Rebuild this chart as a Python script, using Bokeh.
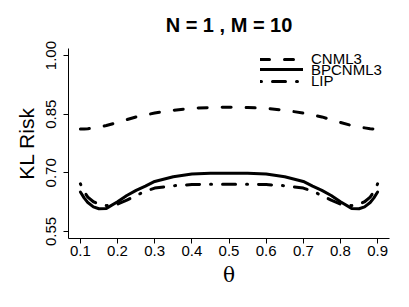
from bokeh.plotting import figure
from bokeh.models import Range1d, Legend, LegendItem, FixedTicker
from bokeh.embed import file_html
from bokeh.resources import INLINE

theta = [0.10, 0.11, 0.12, 0.135, 0.15, 0.17, 0.20, 0.225, 0.25, 0.275, 0.30, 0.35, 0.40, 0.45, 0.50,
         0.55, 0.60, 0.65, 0.70, 0.725, 0.75, 0.775, 0.80, 0.83, 0.85, 0.865, 0.88, 0.89, 0.90]
cnml3 = [0.812, 0.812, 0.813, 0.815, 0.817, 0.821, 0.829, 0.836, 0.843, 0.848, 0.853, 0.860, 0.865, 0.867, 0.868,
         0.867, 0.865, 0.860, 0.853, 0.848, 0.843, 0.836, 0.829, 0.821, 0.817, 0.815, 0.813, 0.812, 0.812]
bpcnml3 = [0.651, 0.636, 0.624, 0.613, 0.608, 0.609, 0.626, 0.642, 0.655, 0.666, 0.678, 0.690, 0.697, 0.699, 0.699,
           0.699, 0.697, 0.690, 0.678, 0.666, 0.655, 0.642, 0.626, 0.609, 0.608, 0.613, 0.624, 0.636, 0.651]
lip = [0.672, 0.652, 0.638, 0.626, 0.620, 0.616, 0.620, 0.630, 0.642, 0.653, 0.661, 0.667, 0.670, 0.671, 0.671,
       0.671, 0.670, 0.667, 0.661, 0.653, 0.642, 0.630, 0.620, 0.616, 0.620, 0.626, 0.638, 0.652, 0.672]

x_ticks = [0.1, 0.2, 0.3, 0.4, 0.5, 0.6, 0.7, 0.8, 0.9]
y_ticks = [0.55, 0.70, 0.85, 1.00]
series_names = ["CNML3", "BPCNML3", "LIP"]
title_text = "N = 1 , M = 10"

FONT = "Liberation Sans"

p = figure(width=401, height=299, output_backend="svg", toolbar_location=None,
           x_range=Range1d(0.068, 0.932), y_range=Range1d(0.532, 1.018),
           min_border_left=68, min_border_right=12, min_border_top=48, min_border_bottom=61,
           title=title_text)
p.outline_line_color = None
p.grid.visible = False
p.background_fill_color = "white"
p.border_fill_color = "white"

p.title.text_font = FONT
p.title.text_font_size = "20px"
p.title.text_font_style = "bold"
p.title.align = "center"
p.title.vertical_align = "middle"
p.title.text_color = "black"
p.title.standoff = 24

r1 = p.line(theta, cnml3, line_width=3, color="black", line_dash="9 15", line_cap="round")
r2 = p.line(theta, bpcnml3, line_width=3, color="black", line_cap="round")
r3 = p.line(theta, lip, line_width=3, color="black", line_dash="1 11 13 11", line_cap="round")

p.xaxis.ticker = FixedTicker(ticks=x_ticks)
p.yaxis.ticker = FixedTicker(ticks=y_ticks)
p.yaxis.major_label_overrides = {v: f"{v:.2f}" for v in y_ticks}
p.xaxis.major_label_overrides = {v: f"{v:.1f}" for v in x_ticks}

for ax in (p.xaxis[0], p.yaxis[0]):
    ax.axis_line_color = "black"
    ax.axis_line_width = 1
    ax.major_tick_line_color = "black"
    ax.major_tick_out = 5
    ax.major_tick_in = 0
    ax.minor_tick_line_color = None
    ax.major_label_text_font = FONT
    ax.major_label_text_font_size = "15px"
    ax.major_label_text_color = "black"
    ax.axis_label_text_color = "black"
    ax.axis_label_text_font_style = "normal"

p.yaxis.major_label_orientation = "vertical"
p.xaxis.major_label_standoff = 2
p.yaxis.major_label_standoff = 7
p.yaxis.axis_label = "KL Risk"
p.yaxis.axis_label_text_font = FONT
p.yaxis.axis_label_text_font_size = "21px"
p.yaxis.axis_label_standoff = 6
p.xaxis.axis_label = "θ"
p.xaxis.axis_label_text_font = "DejaVu Serif"
p.xaxis.axis_label_text_font_size = "20px"
p.xaxis.axis_label_standoff = 4

# R-style legend with overlapping rows: one single-item legend per series
for name, rend, ybot in zip(series_names, [r1, r2, r3], [171, 160.5, 149]):
    lg = Legend(items=[LegendItem(label=name, renderers=[rend])],
                location=(192, ybot), orientation="vertical",
                border_line_alpha=0, background_fill_alpha=0,
                padding=0, margin=0, spacing=0,
                glyph_width=43, glyph_height=10, label_height=10, label_standoff=8,
                label_text_font=FONT, label_text_font_size="15px", label_text_color="black")
    p.add_layout(lg)

open("out.html", "w").write(file_html(p, INLINE))
